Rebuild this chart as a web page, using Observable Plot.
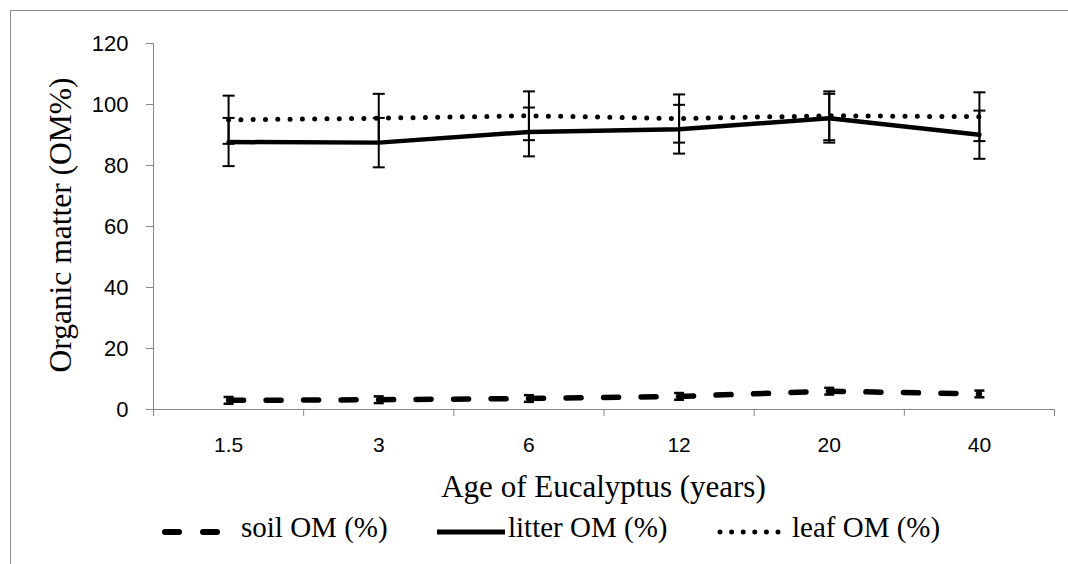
<!DOCTYPE html>
<html><head><meta charset="utf-8">
<script src="https://cdn.jsdelivr.net/npm/d3@7"></script>
<script src="https://cdn.jsdelivr.net/npm/@observablehq/plot@0.6"></script>
<style>
html,body{margin:0;padding:0;background:#fff;overflow:hidden}
#wrap{position:relative;width:1068px;height:564px;overflow:hidden;background:#fff}
#frame{position:absolute;left:10px;top:10px;width:1200px;height:700px;border:1px solid #8c8c8c}
#chart{position:absolute;left:0;top:0}
.serif{position:absolute;font-family:"Liberation Serif","Times New Roman",serif;color:#000;white-space:nowrap;line-height:1}
#xtitle{left:153px;width:901px;top:471px;text-align:center;font-size:31px}
#ytitle{left:61px;top:225px;font-size:31.5px;transform:translate(-50%,-50%) rotate(-90deg)}
.legtext{font-size:29px;top:513px}
.sw{position:absolute;top:522px;height:20px}
</style></head>
<body>
<div id="wrap">
  <div id="frame"></div>
  <div id="chart"></div>
  <div id="ytitle" class="serif">Organic matter (OM%)</div>
  <div id="xtitle" class="serif">Age of Eucalyptus (years)</div>
  <svg class="sw" style="left:162px" width="64" height="20"><line x1="3" y1="10" x2="62" y2="10" stroke="#000" stroke-width="6" stroke-dasharray="14 24" stroke-linecap="round"/></svg>
  <div class="serif legtext" style="left:241px">soil OM (%)</div>
  <svg class="sw" style="left:434px" width="74" height="20"><line x1="3" y1="10" x2="71" y2="10" stroke="#000" stroke-width="5"/></svg>
  <div class="serif legtext" style="left:508px">litter OM (%)</div>
  <svg class="sw" style="left:716px" width="72" height="20"><line x1="4" y1="10" x2="68" y2="10" stroke="#000" stroke-width="5" stroke-dasharray="0 11.6" stroke-linecap="round"/></svg>
  <div class="serif legtext" style="left:792px">leaf OM (%)</div>
</div>
<script>
const ages = ["1.5", "3", "6", "12", "20", "40"];
const soilOM = [3.0, 3.2, 3.6, 4.3, 6.0, 5.1];
const soilErr = [1.1, 1.1, 1.1, 1.1, 1.1, 1.1];
const litterOM = [87.7, 87.5, 91.0, 91.9, 95.5, 90.1];
const litterErr = [7.9, 8.1, 8.0, 8.0, 8.0, 7.9];
const leafOM = [95.0, 95.5, 96.3, 95.4, 96.3, 96.0];
const leafErr = [7.9, 8.0, 8.0, 7.9, 8.0, 8.0];
const yTicks = [0, 20, 40, 60, 80, 100, 120];

const gray = "#868686";
const mk = (name, vals, errs) => vals.map((v, i) => ({series: name, i, age: ages[i], v, lo: v - errs[i], hi: v + errs[i]}));
const soilRows = mk("soil", soilOM, soilErr);
const litterRows = mk("litter", litterOM, litterErr);
const leafRows = mk("leaf", leafOM, leafErr);
const allRows = [...soilRows, ...litterRows, ...leafRows];
const capRows = allRows.flatMap(d => [{i: d.i, y: d.lo, series: d.series}, {i: d.i, y: d.hi, series: d.series}]);
const xOf = d => d.i + 0.5;
const cap = {draw(ctx) { ctx.moveTo(-6, 0); ctx.lineTo(6, 0); }};
const capSmall = {draw(ctx) { ctx.moveTo(-5, 0); ctx.lineTo(5, 0); }};

const chart = Plot.plot({
  width: 1068, height: 470,
  marginTop: 43, marginBottom: 61, marginLeft: 153, marginRight: 14,
  style: {background: "transparent", color: "black", overflow: "visible"},
  x: {type: "linear", domain: [0, ages.length], axis: null},
  y: {domain: [0, 120], axis: null},
  marks: [
    Plot.ruleY([0], {stroke: gray, strokeWidth: 1}),
    Plot.ruleX([0], {stroke: gray, strokeWidth: 1}),
    Plot.axisY(yTicks, {tickSize: 7, tickFormat: () => "", color: gray}),
    Plot.axisY(yTicks, {tickSize: 0, tickPadding: 25, color: "black", fontSize: 22, fontFamily: "Liberation Sans, Arial, sans-serif", label: null}),
    Plot.axisX(d3.range(0, ages.length + 1), {tickSize: 7, tickFormat: () => "", color: gray, label: null}),
    Plot.axisX(ages.map((_, i) => i + 0.5), {tickSize: 0, tickPadding: 28, tickFormat: d => ages[Math.floor(d)], color: "black", fontSize: 21, fontFamily: "Liberation Sans, Arial, sans-serif", label: null}),
    Plot.line(leafRows, {x: xOf, y: "v", stroke: "black", strokeWidth: 5, strokeDasharray: "0 12.3", strokeLinecap: "round"}),
    Plot.line(litterRows, {x: xOf, y: "v", stroke: "black", strokeWidth: 4.5}),
    Plot.line(soilRows, {x: xOf, y: "v", stroke: "black", strokeWidth: 5.5, strokeDasharray: "15 22.5", strokeLinecap: "round"}),
    Plot.ruleX(allRows, {x: xOf, y1: "lo", y2: "hi", stroke: "black", strokeWidth: 2}),
    Plot.dot(capRows.filter(d => d.series !== "soil"), {x: xOf, y: "y", symbol: cap, r: 6, stroke: "black", fill: "none", strokeWidth: 2}),
    Plot.dot(capRows.filter(d => d.series === "soil"), {x: xOf, y: "y", symbol: capSmall, r: 5, stroke: "black", fill: "none", strokeWidth: 2.5})
  ]
});
document.getElementById("chart").appendChild(chart);
</script>
</body></html>
